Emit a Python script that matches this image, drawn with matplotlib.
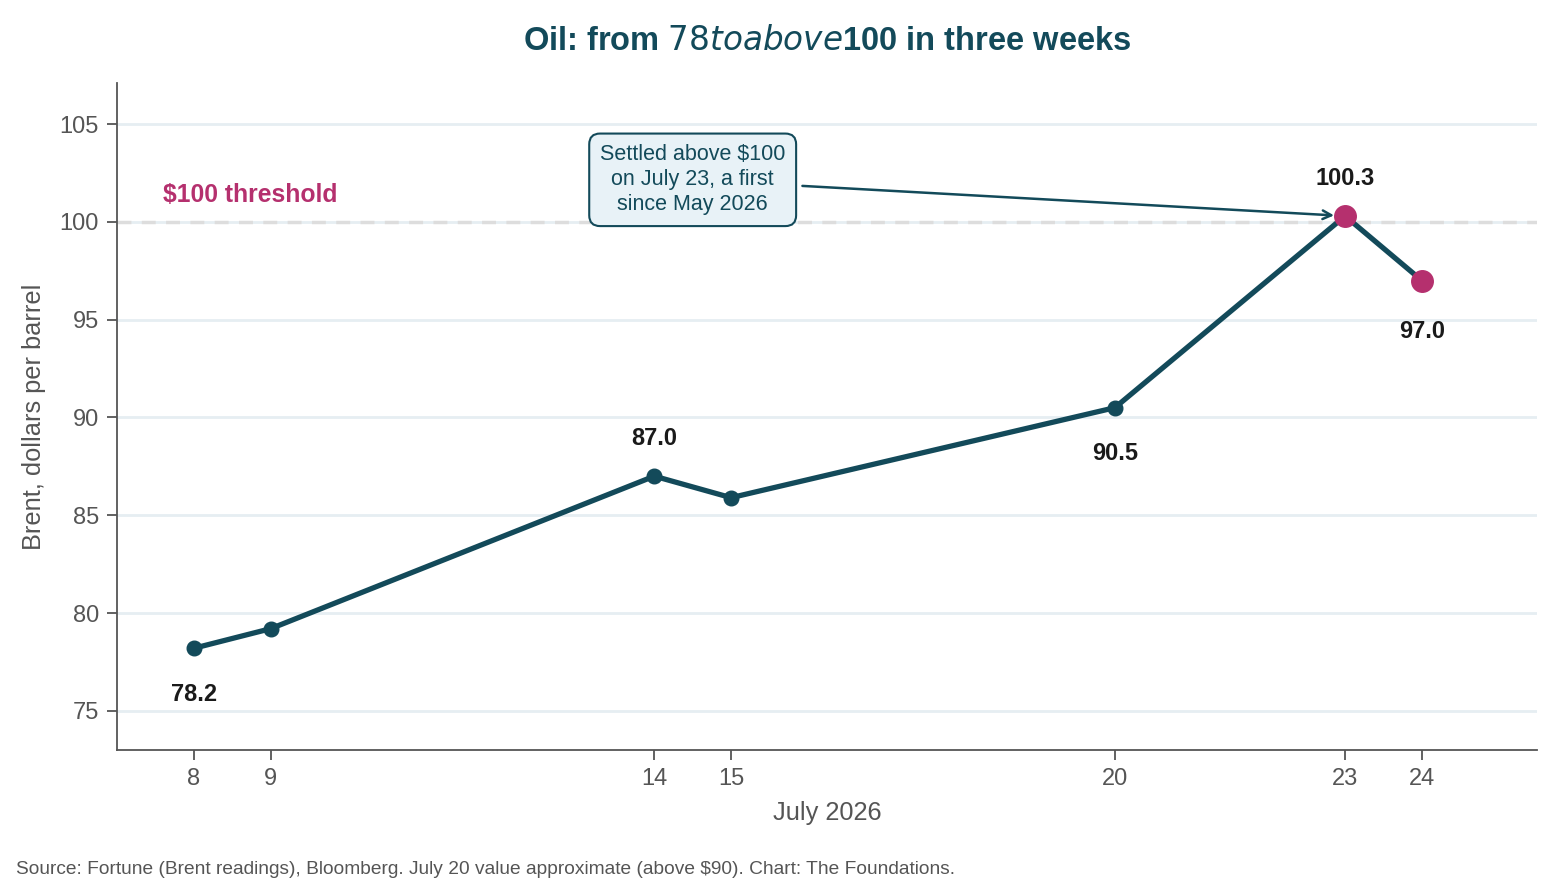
import numpy as np
import matplotlib
matplotlib.use("Agg")
from matplotlib import pyplot as plt

# data
days = [8, 9, 14, 15, 20, 23, 24]
brent = [78.2, 79.2, 87.0, 85.9, 90.5, 100.3, 97.0]
labelled = {8: "below", 14: "above", 20: "below", 23: "above", 24: "below"}
highlight_days = [23, 24]
yticks = [75, 80, 85, 90, 95, 100, 105]

teal = "#134a5a"
magenta = "#b5306e"
grey = "#555555"

plt.rcParams["font.family"] = ["Liberation Sans", "DejaVu Sans"]

fig = plt.figure(figsize=(15.63, 8.84), dpi=100)
ax = fig.add_axes([117 / 1563, 1 - 750 / 884, 1420 / 1563, 667 / 884])

# grid + threshold
for y in yticks:
    ax.axhline(y, color="#e6eef2", lw=2, zorder=0)
ax.axhline(100, color="#dddddd", lw=2.5, ls=(0, (4, 3)), zorder=1)

ax.plot(days, brent, color=teal, lw=3.8, marker="o", ms=10.5, zorder=3)
hi = [brent[days.index(d)] for d in highlight_days]
ax.plot(highlight_days, hi, ls="none", marker="o", ms=15.5, color=magenta, zorder=4)

for d, pos in labelled.items():
    v = brent[days.index(d)]
    off = 27 if pos == "above" else -33
    if d == 24:
        off = -37
    ax.annotate(f"{v:.1f}", (d, v), xytext=(0, off), textcoords="offset points",
                ha="center", va="center", fontsize=17, fontweight="bold",
                color="#1a1a1a", zorder=5)

ax.text(7.6, 101.35, "$100 threshold", color=magenta, fontsize=17.8,
        fontweight="bold", ha="left", va="center")

ax.annotate("Settled above $100\non July 23, a first\nsince May 2026",
            xy=(23, 100.3), xytext=(14.5, 102.15), textcoords="data",
            ha="center", va="center", fontsize=15.5, color=teal, linespacing=1.25,
            bbox=dict(boxstyle="round,pad=0.5", fc="#e8f2f7", ec=teal, lw=1.5),
            arrowprops=dict(arrowstyle="->", color=teal, lw=1.8,
                            shrinkA=4, shrinkB=8), zorder=6)

ax.set_xlim(7, 25.5)
ax.set_ylim(73, 107.1)
ax.set_xticks(days)
ax.set_yticks(yticks)
ax.tick_params(colors=grey, labelsize=17, length=7, width=1.3, pad=6)
for s in ["top", "right"]:
    ax.spines[s].set_visible(False)
for s in ["left", "bottom"]:
    ax.spines[s].set_color(grey)
    ax.spines[s].set_linewidth(1.3)

ax.set_xlabel("July 2026", fontsize=18.3, color=grey, labelpad=8)
ax.set_ylabel("Brent, dollars per barrel", fontsize=18.3, color=grey, labelpad=10)

ax.set_title("Oil: from $78 to above $100 in three weeks", fontsize=23.5,
             fontweight="bold", color=teal, pad=24)

fig.text(16 / 1563, 1 - 869 / 884, "Source: Fortune (Brent readings), Bloomberg. July 20 value approximate (above $90). Chart: The Foundations.",
         fontsize=13.8, color=grey, ha="left", va="center")

plt.savefig("out.png", dpi=100)
